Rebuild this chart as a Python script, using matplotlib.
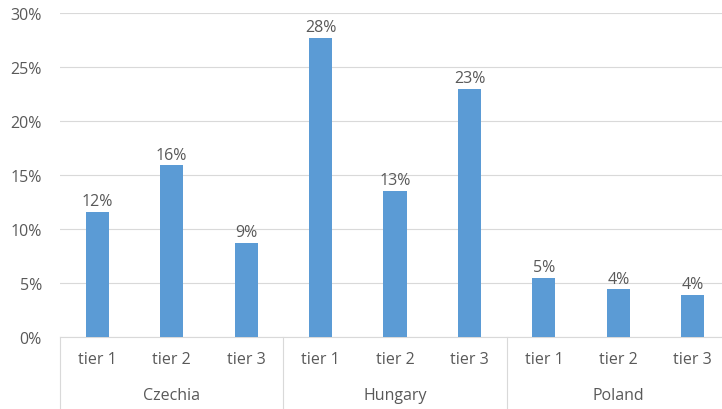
import matplotlib
matplotlib.use("Agg")
import matplotlib.pyplot as plt
import matplotlib.transforms as mtransforms
from matplotlib.ticker import FuncFormatter, MultipleLocator

countries = ["Czechia", "Hungary", "Poland"]
tiers = ["tier 1", "tier 2", "tier 3"]
values = {
    "Czechia": [11.6, 15.9, 8.7],
    "Hungary": [27.7, 13.5, 23.0],
    "Poland": [5.5, 4.4, 3.9],
}
labels = {
    "Czechia": ["12%", "16%", "9%"],
    "Hungary": ["28%", "13%", "23%"],
    "Poland": ["5%", "4%", "4%"],
}

plt.rcParams['font.family'] = ['Open Sans', 'DejaVu Sans']
text_color = "#595959"
bar_color = "#5B9BD5"
grid_color = "#D9D9D9"

W, H = 722, 410
fig = plt.figure(figsize=(W / 100, H / 100), dpi=100)
left, right, bottom, top = 60, 730, 338, 14
ax = fig.add_axes([left / W, (H - bottom) / H, (right - left) / W, (bottom - top) / H])

xs, ys, tick_labels, bar_labels = [], [], [], []
i = 0
for c in countries:
    for t, v, l in zip(tiers, values[c], labels[c]):
        xs.append(i)
        ys.append(v)
        tick_labels.append(t)
        bar_labels.append(l)
        i += 1

fs = 11.5
bars = ax.bar(xs, ys, width=0.31, color=bar_color, zorder=3)
for x, y, l in zip(xs, ys, bar_labels):
    ax.annotate(l, (x, y), xytext=(0, 2), textcoords="offset points",
                ha="center", va="bottom", fontsize=fs, color=text_color)

ax.set_xlim(-0.5, len(xs) - 0.5)
ax.set_ylim(0, 30)
ax.yaxis.set_major_locator(MultipleLocator(5))
ax.yaxis.set_major_formatter(FuncFormatter(lambda v, p: f"{int(round(v))}%"))
ax.grid(axis="y", color=grid_color, linewidth=0.8, zorder=0)
for s in ["top", "right", "left"]:
    ax.spines[s].set_visible(False)
ax.spines["bottom"].set_color(grid_color)
ax.spines["bottom"].set_linewidth(0.8)
ax.tick_params(axis="y", length=0, labelsize=fs, labelcolor=text_color, pad=13)
ax.set_xticks(xs)
ax.set_xticklabels(tick_labels)
ax.tick_params(axis="x", length=0, labelsize=fs, labelcolor=text_color, pad=10)

trans = mtransforms.blended_transform_factory(ax.transData, ax.transAxes)
ph = bottom - top
for k in range(len(countries) + 1):
    xb = k * 3 - 0.5
    ax.plot([xb, xb], [0, -72 / ph], transform=trans, color=grid_color,
            linewidth=0.8, clip_on=False)
for k, c in enumerate(countries):
    ax.text(k * 3 + 1, -58 / ph, c, transform=trans, ha="center", va="center",
            fontsize=fs, color=text_color)

fig.savefig("out.png", dpi=100)
